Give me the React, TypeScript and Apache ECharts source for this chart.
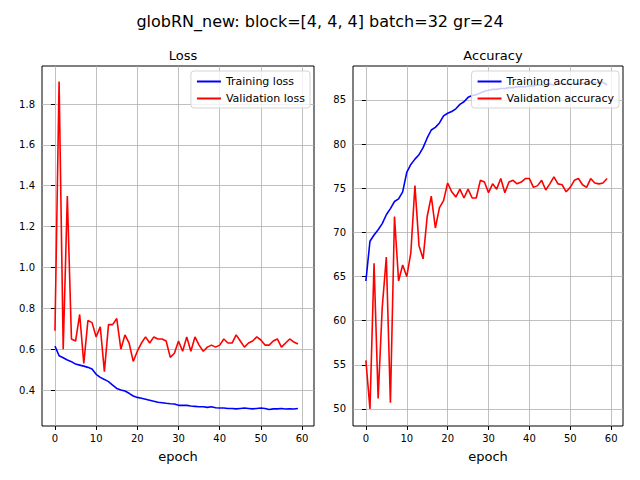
import { useEffect, useRef } from "react";
import * as echarts from "echarts";

const epochs = Array.from({ length: 60 }, (_, i) => i);

const trainLoss = [
  0.615, 0.568, 0.558, 0.547, 0.539, 0.527, 0.522, 0.517, 0.511, 0.503,
  0.477, 0.462, 0.452, 0.441, 0.424, 0.408, 0.4, 0.395, 0.384, 0.371,
  0.364, 0.36, 0.355, 0.35, 0.345, 0.34, 0.338, 0.335, 0.333, 0.332,
  0.325, 0.325, 0.325, 0.322, 0.32, 0.318, 0.318, 0.315, 0.318, 0.313,
  0.312, 0.312, 0.31, 0.31, 0.308, 0.31, 0.312, 0.31, 0.308, 0.31,
  0.312, 0.31, 0.305, 0.308, 0.308, 0.31, 0.307, 0.308, 0.307, 0.31,
];
const valLoss = [
  0.69, 1.91, 0.6, 1.35, 0.65, 0.64, 0.77, 0.53, 0.74, 0.73,
  0.66, 0.71, 0.49, 0.72, 0.72, 0.75, 0.6, 0.67, 0.63, 0.54,
  0.59, 0.63, 0.66, 0.63, 0.66, 0.65, 0.65, 0.64, 0.56, 0.58,
  0.64, 0.59, 0.66, 0.59, 0.66, 0.62, 0.59, 0.61, 0.62, 0.61,
  0.62, 0.65, 0.63, 0.63, 0.67, 0.64, 0.61, 0.63, 0.64, 0.66,
  0.645, 0.62, 0.62, 0.64, 0.65, 0.61, 0.63, 0.65, 0.635, 0.625,
];
const trainAcc = [
  64.5, 69, 69.7, 70.3, 71, 72, 72.7, 73.5, 73.8, 74.6,
  76.8, 77.7, 78.3, 78.8, 79.6, 80.7, 81.6, 81.9, 82.4, 83.2,
  83.5, 83.7, 84, 84.5, 84.8, 85.3, 85.5, 85.6, 85.8, 86,
  86.1, 86.2, 86.2, 86.3, 86.3, 86.4, 86.4, 86.5, 86.5, 86.5,
  86.6, 86.6, 86.7, 86.7, 86.6, 86.8, 86.7, 86.8, 86.9, 86.8,
  86.8, 86.9, 86.8, 86.9, 86.8, 87, 86.9, 87, 87, 86.7,
];
const valAcc = [
  55.5, 50, 66.5, 51.2, 61.5, 67.2, 50.7, 71.8, 64.5, 66.3,
  65, 67.7, 75.3, 68.5, 67, 71.8, 74.1, 70.5, 72.8, 73.6,
  75.6, 74.6, 74, 74.9, 73.9, 74.9, 73.9, 73.9, 75.9, 75.7,
  74.5, 75.5, 74.9, 76.1, 74.5, 75.7, 75.9, 75.5, 75.7, 76.1,
  76.1, 75.1, 75.3, 75.9, 74.8, 75.5, 76.3, 75.5, 75.4, 74.6,
  75.1, 75.9, 76.1, 75.4, 75.1, 76.1, 75.6, 75.5, 75.6, 76.1,
];

const xTicks = [0, 10, 20, 30, 40, 50, 60];
const lossTicks = [0.4, 0.6, 0.8, 1.0, 1.2, 1.4, 1.6, 1.8];
const accTicks = [50, 55, 60, 65, 70, 75, 80, 85];

const font = "DejaVu Sans";
const gridLine = { show: true, lineStyle: { color: "#b0b0b0", width: 0.8 } };

function xAxis(gridIndex: number) {
  return {
    type: "value",
    gridIndex,
    min: -3.15,
    max: 62.9,
    name: "epoch",
    nameLocation: "middle",
    nameGap: 24,
    nameTextStyle: { color: "#000", fontSize: 13, fontFamily: font },
    axisLine: { show: false },
    axisTick: { show: true, customValues: xTicks, length: 4, lineStyle: { color: "#000" } },
    axisLabel: { customValues: xTicks, color: "#000", fontSize: 10, fontFamily: font, margin: 7 },
    splitLine: gridLine,
  };
}

function yAxis(gridIndex: number, min: number, max: number, ticks: number[], fmt: (v: number) => string) {
  return {
    type: "value",
    gridIndex,
    min,
    max,
    axisLine: { show: false },
    axisTick: { show: true, customValues: ticks, length: 4, lineStyle: { color: "#000" } },
    axisLabel: { customValues: ticks, color: "#000", fontSize: 10, fontFamily: font, margin: 7, formatter: fmt },
    splitLine: gridLine,
  };
}

function line(name: string, data: number[], color: string, idx: number) {
  return {
    name,
    type: "line",
    xAxisIndex: idx,
    yAxisIndex: idx,
    data: epochs.map((e, i) => [e, data[i]]),
    showSymbol: false,
    lineStyle: { color, width: 1.6 },
    itemStyle: { color },
  };
}

function legend(data: string[], right: number) {
  return {
    data,
    orient: "vertical",
    right,
    top: 71,
    icon: "rect",
    itemWidth: 24,
    itemHeight: 2,
    itemGap: 6,
    padding: [5, 5, 4, 6],
    borderColor: "#d5d5d5",
    borderWidth: 1,
    borderRadius: 3,
    backgroundColor: "rgba(255,255,255,0.8)",
    textStyle: { color: "#000", fontSize: 11, fontFamily: font },
  };
}

export default function App() {
  const ref = useRef<HTMLDivElement | null>(null);

  useEffect(() => {
    if (!ref.current) return;
    const chart = echarts.init(ref.current, null, { renderer: "svg" });
    chart.setOption({
      animation: false,
      textStyle: { fontFamily: font },
      title: [
        { text: "globRN_new: block=[4, 4, 4] batch=32 gr=24", left: "center", top: 8, textStyle: { fontSize: 16, fontWeight: "normal", color: "#000", fontFamily: font } },
        { text: "Loss", left: 178, top: 44, textAlign: "center", textStyle: { fontSize: 13, fontWeight: "normal", color: "#000", fontFamily: font } },
        { text: "Accuracy", left: 488, top: 44, textAlign: "center", textStyle: { fontSize: 13, fontWeight: "normal", color: "#000", fontFamily: font } },
      ],
      grid: [
        { left: 42, top: 66, width: 272, height: 360, show: true, borderColor: "#000", borderWidth: 1, backgroundColor: "transparent" },
        { left: 353, top: 66, width: 270, height: 360, show: true, borderColor: "#000", borderWidth: 1, backgroundColor: "transparent" },
      ],
      xAxis: [xAxis(0), xAxis(1)],
      yAxis: [
        yAxis(0, 0.224, 1.986, lossTicks, (v: number) => v.toFixed(1)),
        yAxis(1, 48.07, 88.85, accTicks, (v: number) => String(Math.round(v))),
      ],
      legend: [
        legend(["Training loss", "Validation loss"], 640 - 310),
        legend(["Training accuracy", "Validation accuracy"], 640 - 619),
      ],
      series: [
        line("Training loss", trainLoss, "#0000ff", 0),
        line("Validation loss", valLoss, "#ff0000", 0),
        line("Training accuracy", trainAcc, "#0000ff", 1),
        line("Validation accuracy", valAcc, "#ff0000", 1),
      ],
    });
    return () => chart.dispose();
  }, []);

  return <div ref={ref} style={{ position: "absolute", left: 0, top: 0, width: 640, height: 480 }} />;
}
